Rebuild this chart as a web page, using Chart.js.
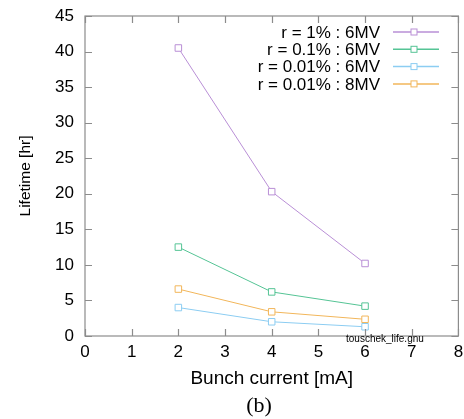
<!DOCTYPE html>
<html>
<head>
<meta charset="utf-8">
<script src="https://cdn.jsdelivr.net/npm/chart.js@4"></script>
<style>
  html, body { margin: 0; padding: 0; background: #fff; }
  canvas { display: block; }
</style>
</head>
<body>
<canvas id="lifeChart" width="464" height="419"></canvas>
<script>
// bunch current [mA] and lifetime [hr]
const bunchCurrent = [2, 4, 6];
const life1pct6MV = [40.5, 20.3, 10.2];
const life01pct6MV = [12.5, 6.2, 4.2];
const life001pct6MV = [4.0, 2.0, 1.3];
const life001pct8MV = [6.6, 3.4, 2.35];

const seriesLabels = ['r = 1% : 6MV', 'r = 0.1% : 6MV', 'r = 0.01% : 6MV', 'r = 0.01% : 8MV'];
const seriesColors = ['#b98fd6', '#55c495', '#8ccdf2', '#f2b65a'];
const seriesValues = [life1pct6MV, life01pct6MV, life001pct6MV, life001pct8MV];

const xTicks = [0, 1, 2, 3, 4, 5, 6, 7, 8];
const yTicks = [0, 5, 10, 15, 20, 25, 30, 35, 40, 45];

const frameColor = '#8c8c8c';
const fontFamily = '"Liberation Sans", Arial, sans-serif';

function toPoints(ys) {
  return bunchCurrent.map((x, i) => ({x: x, y: ys[i]}));
}

// frame on all four sides, with inward ticks (gnuplot style)
const frameTicks = {
  id: 'frameTicks',
  afterDraw(chart) {
    const {ctx, chartArea: {top, bottom, left, right}, scales: {x, y}} = chart;
    const len = 7;
    ctx.save();
    ctx.strokeStyle = frameColor;
    ctx.lineWidth = 1.2;
    ctx.strokeRect(left, top, right - left, bottom - top);
    ctx.beginPath();
    xTicks.forEach(v => {
      const px = Math.round(x.getPixelForValue(v)) + 0.5;
      ctx.moveTo(px, bottom); ctx.lineTo(px, bottom - len);
      ctx.moveTo(px, top); ctx.lineTo(px, top + len);
    });
    yTicks.forEach(v => {
      const py = Math.round(y.getPixelForValue(v)) + 0.5;
      ctx.moveTo(left, py); ctx.lineTo(left + len, py);
      ctx.moveTo(right, py); ctx.lineTo(right - len, py);
    });
    ctx.stroke();

    // small file name and panel caption
    ctx.fillStyle = '#000';
    ctx.font = '10px ' + fontFamily;
    ctx.textAlign = 'left';
    ctx.textBaseline = 'alphabetic';
    ctx.fillText('touschek_life.gnu', 346, 342);
    ctx.font = '22px "Liberation Serif", "Times New Roman", serif';
    ctx.textAlign = 'center';
    ctx.textBaseline = 'middle';
    ctx.fillText('(b)', 259, 406);
    ctx.restore();
  }
};

// legend: right-aligned text, then line sample with marker
const keyBox = {
  id: 'keyBox',
  afterDraw(chart) {
    const ctx = chart.ctx;
    ctx.save();
    chart.data.datasets.forEach((ds, i) => {
      const cy = 32 + i * 17.3;
      ctx.fillStyle = '#000';
      ctx.font = '17px ' + fontFamily;
      ctx.textAlign = 'right';
      ctx.textBaseline = 'middle';
      ctx.fillText(ds.label, 380, cy + 1);
      ctx.strokeStyle = ds.borderColor;
      ctx.lineWidth = 1.5;
      ctx.beginPath();
      ctx.moveTo(393, cy); ctx.lineTo(439, cy);
      ctx.stroke();
      ctx.fillStyle = '#fff';
      ctx.fillRect(411, cy - 3, 6, 6);
      ctx.lineWidth = 1;
      ctx.strokeRect(411, cy - 3, 6, 6);
    });
    ctx.restore();
  }
};

const datasets = seriesLabels.map((label, i) => ({
  label: label,
  data: toPoints(seriesValues[i]),
  borderColor: seriesColors[i],
  backgroundColor: '#fff',
  borderWidth: 1,
  pointStyle: 'rect',
  pointRadius: 4.6,
  pointBorderWidth: 1,
  pointHoverRadius: 4.6,
  showLine: true,
  tension: 0
}));

new Chart(document.getElementById('lifeChart'), {
  type: 'line',
  data: {datasets: datasets},
  options: {
    responsive: false,
    animation: false,
    layout: {padding: {left: 0, right: 5, top: 16, bottom: 0}},
    plugins: {
      legend: {display: false},
      tooltip: {enabled: false}
    },
    scales: {
      x: {
        type: 'linear',
        min: 0,
        max: 8,
        afterBuildTicks: s => { s.ticks = xTicks.map(v => ({value: v})); },
        afterFit: s => { s.height = 83; },
        ticks: {color: '#000', font: {family: fontFamily, size: 17}, padding: -2, maxRotation: 0},
        grid: {display: false},
        border: {display: false},
        title: {
          display: true,
          text: 'Bunch current [mA]',
          color: '#000',
          font: {family: fontFamily, size: 19},
          padding: {top: 0, bottom: 29}
        }
      },
      y: {
        min: 0,
        max: 45,
        afterBuildTicks: s => { s.ticks = yTicks.map(v => ({value: v})); },
        afterFit: s => { s.width = 85; },
        ticks: {color: '#000', font: {family: fontFamily, size: 17}, padding: 3},
        grid: {display: false},
        border: {display: false},
        title: {
          display: true,
          text: 'Lifetime [hr]',
          color: '#000',
          font: {family: fontFamily, size: 15.5},
          padding: {top: 16, bottom: 0}
        }
      }
    }
  },
  plugins: [frameTicks, keyBox]
});
</script>
</body>
</html>
